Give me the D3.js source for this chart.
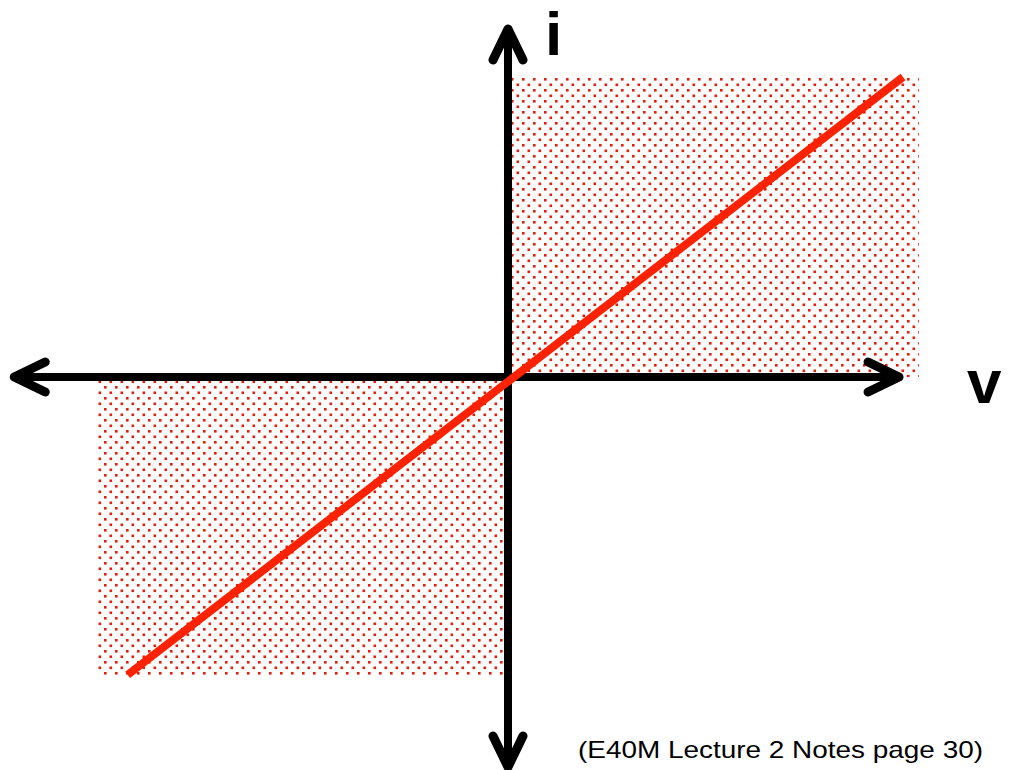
<!DOCTYPE html>
<html>
<head>
<meta charset="utf-8">
<script src="https://cdn.jsdelivr.net/npm/d3@7"></script>
<style>
  html, body { margin: 0; padding: 0; background: #fff; }
  svg { display: block; }
</style>
</head>
<body>
<script>
// ---- data ----
const lineV = [-0.963, 1.0];          // voltage at line ends
const lineI = [-0.993, 1.0];          // current at line ends
const regionV = [[0.01, 1.04], [-1.04, -0.01]];   // shaded quadrants (v extent)
const regionI = [[0.0, 1.006], [-0.003, -1.0]];   // shaded quadrants (i extent)
const axisV = [-1.25, 0.99];          // horizontal axis extent
const axisI = [1.16, -1.30];          // vertical axis extent
const axisLabels = ["v", "i"];
const caption = "(E40M Lecture 2 Notes page 30)";

const W = 1010, H = 770;
const x = d3.scaleLinear().domain([-1, 1]).range([508 - 395, 508 + 395]);
const y = d3.scaleLinear().domain([-1, 1]).range([377 + 300, 377 - 300]);

const svg = d3.select("body").append("svg").attr("width", W).attr("height", H);

const defs = svg.append("defs");
const pat = defs.append("pattern").attr("id", "dots")
  .attr("patternUnits", "userSpaceOnUse")
  .attr("x", 511).attr("y", 78).attr("width", 11).attr("height", 11);
pat.append("rect").attr("x", 0).attr("y", 0).attr("width", 2.6).attr("height", 2.6).attr("fill", "#e41e0c");
pat.append("rect").attr("x", 5.5).attr("y", 5.5).attr("width", 2.6).attr("height", 2.6).attr("fill", "#e41e0c");

// shaded regions
svg.selectAll("rect.region").data(regionV.map((v, k) => ({v, i: regionI[k]})))
  .enter().append("rect").attr("class", "region")
  .attr("x", d => x(d3.min(d.v)))
  .attr("width", d => x(d3.max(d.v)) - x(d3.min(d.v)))
  .attr("y", d => y(d3.max(d.i)))
  .attr("height", d => y(d3.min(d.i)) - y(d3.max(d.i)))
  .attr("fill", "url(#dots)");

// axes
const ax = svg.append("g").attr("stroke", "#000").attr("stroke-width", 8)
  .attr("stroke-linecap", "round").attr("stroke-linejoin", "round").attr("fill", "none");
ax.append("line").attr("x1", x(axisV[0])).attr("x2", x(axisV[1])).attr("y1", y(0)).attr("y2", y(0)).attr("stroke-linecap", "butt");
ax.append("line").attr("x1", x(0)).attr("x2", x(0)).attr("y1", y(axisI[0])).attr("y2", y(axisI[1])).attr("stroke-linecap", "butt");
// arrow heads
const L = 31, S = 15;
const heads = [
  {tx: x(axisV[0]), ty: y(0), a: [[L, -S], [L, S]]},
  {tx: x(axisV[1]), ty: y(0), a: [[-L, -S], [-L, S]]},
  {tx: x(0), ty: y(axisI[0]), a: [[-S, L], [S, L]]},
  {tx: x(0), ty: y(axisI[1]), a: [[-S, -L], [S, -L]]}
];
heads.forEach(h => {
  ax.append("path").attr("stroke-width", 9).attr("d",
    `M${h.tx + h.a[0][0]},${h.ty + h.a[0][1]} L${h.tx},${h.ty} L${h.tx + h.a[1][0]},${h.ty + h.a[1][1]}`);
});

// the line
svg.append("line")
  .attr("x1", x(lineV[0])).attr("y1", y(lineI[0]))
  .attr("x2", x(lineV[1])).attr("y2", y(lineI[1]))
  .attr("stroke", "#ff2200").attr("stroke-width", 8);

// labels
svg.append("text").attr("x", 967).attr("y", 403).text(axisLabels[0])
  .attr("font-family", "Liberation Sans, Arial, sans-serif").attr("font-weight", "bold").attr("font-size", 62);
svg.append("text").attr("x", 545).attr("y", 55).text(axisLabels[1])
  .attr("font-family", "Liberation Sans, Arial, sans-serif").attr("font-weight", "bold").attr("font-size", 62);
svg.append("text").attr("x", 578).attr("y", 758).text(caption)
  .attr("font-family", "Liberation Sans, Arial, sans-serif").attr("font-size", 24)
  .attr("textLength", 405).attr("lengthAdjust", "spacingAndGlyphs");
</script>
</body>
</html>
